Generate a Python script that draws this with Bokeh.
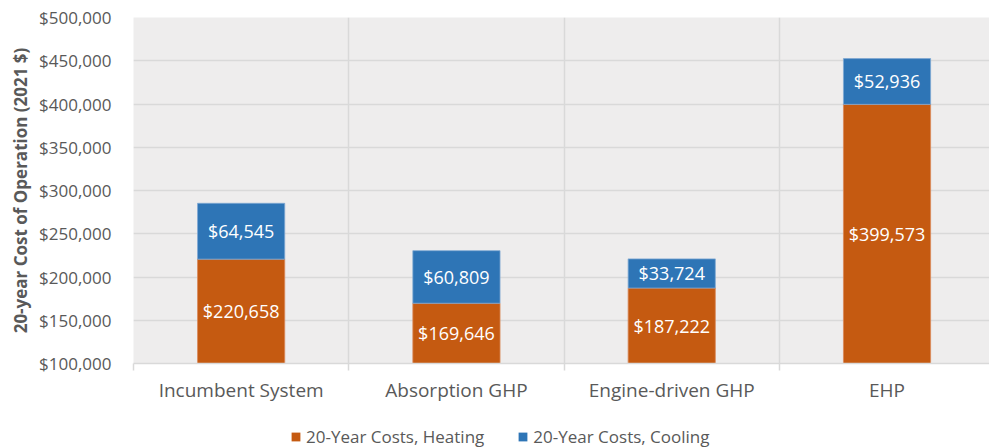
from bokeh.plotting import figure
from bokeh.layouts import column
from bokeh.models import (Range1d, FixedTicker, Legend, LegendItem, ColumnDataSource,
                          NumeralTickFormatter, CustomJSTickFormatter)
from bokeh.core.properties import value
from bokeh.embed import file_html
from bokeh.resources import INLINE

categories = ["Incumbent System", "Absorption GHP", "Engine-driven GHP", "EHP"]
heating = [220658, 169646, 187222, 399573]
cooling = [64545, 60809, 33724, 52936]
y_ticks = [100000, 150000, 200000, 250000, 300000, 350000, 400000, 450000, 500000]
series_names = ["20-Year Costs, Heating", "20-Year Costs, Cooling"]

Y_MIN, Y_MAX = y_ticks[0], y_ticks[-1]
FONT = "Open Sans"
TXT = "#595959"
GRID = "#d9d9d9"
HEAT_C = "#C55A11"
COOL_C = "#2E75B6"

xs = [i + 0.5 for i in range(len(categories))]
tops = [h + c for h, c in zip(heating, cooling)]
src = ColumnDataSource(dict(
    x=xs, heat=heating, cool=cooling, top=tops,
    heat_y=[(Y_MIN + h) / 2 for h in heating],
    cool_y=[h + c / 2 for h, c in zip(heating, cooling)],
    heat_lbl=["${:,.0f}".format(h) for h in heating],
    cool_lbl=["${:,.0f}".format(c) for c in cooling],
))

W, H_MAIN, H_LEG = 989, 414, 34

p = figure(width=W, height=H_MAIN, output_backend="svg", toolbar_location=None,
           x_range=Range1d(0, 3.976), y_range=Range1d(Y_MIN, Y_MAX),
           min_border_left=133, min_border_right=0, min_border_top=17, min_border_bottom=51)
p.background_fill_color = "#EEEDED"
p.border_fill_color = "white"
p.outline_line_color = None

p.vbar(x="x", bottom=0, top="heat", width=0.405, source=src,
       fill_color=HEAT_C, line_color="#D9895A", line_width=0.8)
p.vbar(x="x", bottom="heat", top="top", width=0.405, source=src,
       fill_color=COOL_C, line_color="#7FA8D3", line_width=0.8)

p.text(x="x", y="heat_y", text="heat_lbl", source=src, text_align="center",
       text_baseline="middle", text_color="white", text_font=value(FONT),
       text_font_size="18px")
p.text(x="x", y="cool_y", text="cool_lbl", source=src, text_align="center",
       text_baseline="middle", text_color="white", text_font=value(FONT),
       text_font_size="18px")

# x axis
p.xaxis.ticker = FixedTicker(ticks=xs, minor_ticks=list(range(len(categories) + 1)))
p.xaxis.formatter = CustomJSTickFormatter(args=dict(cats=categories),
                                          code="return cats[Math.floor(tick)];")
p.xaxis.major_tick_line_color = None
p.xaxis.major_tick_out = 0
p.xaxis.major_tick_in = 0
p.xaxis.minor_tick_out = 7
p.xaxis.minor_tick_in = 0
p.xaxis.minor_tick_line_color = GRID
p.xaxis.minor_tick_line_width = 1.5
p.xaxis.axis_line_color = GRID
p.xaxis.axis_line_width = 1.5
p.xaxis.major_label_text_font = FONT
p.xaxis.major_label_text_font_size = "19px"
p.xaxis.major_label_text_color = TXT
p.xaxis.major_label_standoff = 6

p.xgrid.ticker = FixedTicker(ticks=list(range(len(categories) + 1)))
p.xgrid.grid_line_color = GRID
p.xgrid.grid_line_width = 1.5

# y axis
p.yaxis.ticker = FixedTicker(ticks=y_ticks)
p.yaxis.formatter = NumeralTickFormatter(format="$0,0")
p.yaxis.major_tick_line_color = None
p.yaxis.minor_tick_line_color = None
p.yaxis.major_tick_out = 0
p.yaxis.axis_line_color = None
p.yaxis.major_label_text_font = FONT
p.yaxis.major_label_text_font_size = "17px"
p.yaxis.major_label_text_color = TXT
p.yaxis.major_label_standoff = 22
p.yaxis.axis_label = "20-year Cost of Operation (2021 $)"
p.yaxis.axis_label_text_font = FONT
p.yaxis.axis_label_text_font_style = "bold"
p.yaxis.axis_label_text_font_size = "17px"
p.yaxis.axis_label_text_color = TXT
p.yaxis.axis_label_standoff = 4
p.ygrid.grid_line_color = GRID
p.ygrid.grid_line_width = 1.5

# legend strip (separate small figure beneath the chart)
pl = figure(width=W, height=H_LEG, output_backend="svg", toolbar_location=None,
            x_axis_type=None, y_axis_type=None, x_range=Range1d(0, 1), y_range=Range1d(0, 1),
            min_border_left=0, min_border_right=0, min_border_top=0, min_border_bottom=0)
pl.outline_line_color = None
pl.background_fill_color = "white"
pl.border_fill_color = "white"
pl.xgrid.visible = False
pl.ygrid.visible = False
# zero-size proxies of the two series (nothing visible), used only for the legend swatches
lr_heat = pl.vbar(x="x", bottom="top", top="top", width=0, source=src,
                  fill_color=HEAT_C, line_color=None)
lr_cool = pl.vbar(x="x", bottom="top", top="top", width=0, source=src,
                  fill_color=COOL_C, line_color=None)

legend = Legend(items=[LegendItem(label=series_names[0], renderers=[lr_heat]),
                       LegendItem(label=series_names[1], renderers=[lr_cool])],
                orientation="horizontal", location=(157, 0))
legend.label_text_font = FONT
legend.label_text_font_size = "17px"
legend.label_text_color = TXT
legend.glyph_width = 11
legend.glyph_height = 11
legend.spacing = 33
legend.label_standoff = 5
legend.padding = 0
legend.margin = 0
legend.border_line_color = None
legend.background_fill_alpha = 0
pl.add_layout(legend, "center")

layout = column(p, pl, spacing=0)
open("out.html", "w").write(file_html(layout, INLINE))
